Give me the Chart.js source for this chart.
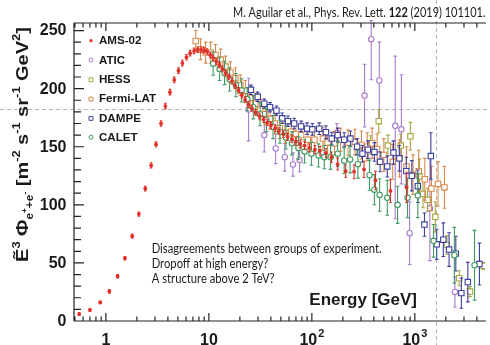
<!DOCTYPE html>
<html>
<head>
<meta charset="utf-8">
<title>All-electron flux</title>
<script src="https://cdn.jsdelivr.net/npm/chart.js@4.4.1/dist/chart.umd.min.js"></script>
<style>
  html, body { margin: 0; padding: 0; background: #fff; }
  canvas { display: block; }
</style>
</head>
<body>
<canvas id="flux" width="490" height="345"></canvas>
<script>
// E^3 x flux in m^-2 s^-1 sr^-1 GeV^2, energies in GeV
const amsEnergy = [0.55,0.70,0.88,1.08,1.30,1.53,1.80,2.09,2.41,2.75,3.07,3.43,3.78,4.19,4.61,5.07,5.53,6.06,6.57,7.18,7.8,8.4,9.0,9.6,10.3,11.0,11.8,12.6,13.5,14.5,15.6,16.8,18.0,19.4,20.9,22.5,24.2,26.2,28.5,31,34,37,40,44,48,53,58,64,70,77,85,95,107,120,137,155,178,213,257,321,415,580,830];
const amsFlux = [6,9.5,16,25.5,38.5,54,73,92,114,134,152,170,185,197,207.5,215.5,222,227,230.5,232.5,233.5,233.5,233,232,229,226.5,223.5,220.5,217,213.5,210,206.5,202.5,198.5,194.5,190.5,186.5,183,179.5,176.5,173.5,171,168.5,166,163.5,161,158.5,156.5,154.5,152.5,151,149,147.5,146.5,144.5,141,135,129,128.5,130.5,121,112,115];
const amsError = [1.2,1.2,1.2,1.5,1.5,1.5,1.8,1.8,2,2.2,2.2,2.4,2.4,2.4,2.4,2.4,2.4,2.4,2.4,2.4,2.4,2.4,2.4,2.4,2.4,2.4,2.4,2.4,2.4,2.4,2.4,2.4,2.4,2.4,2.4,2.4,2.4,2.5,2.5,2.5,2.6,2.6,2.7,2.8,2.9,3,3,3.1,3.2,3.3,3.4,3.5,3.6,3.8,4,4.5,5,5.5,6,7,8,10,13];

const aticEnergy = [24.3,34.5,44.5,54.6,65.5,76,175,325,377,452,645,740,890,1400,2450];
const aticFlux = [182,160,148.5,141,134.7,138.5,162,194,242.6,207,168,165,75.6,97,25];
const aticError = [27,14.5,13,12,10,10,8,27,[35,16],33,[80,60],47,27,45,13];

const hessEnergy = [370,446,548,730,905,1110,1200,1330,1580,2050,2700,3430,4640];
const hessFlux = [151.5,172,151,151,159,124.5,109.5,104.3,89.7,65.5,36.8,25.3,47.4];
const hessError = [8,10,9,10,12,15,12,10,13,8,6.5,4.3,3];

const fermiEnergy = [7.45,8.3,9.3,10.4,11.6,13,14.5,16.2,18.1,20.2,22.6,25.2,28.2,31.5,35.2,39.3,43.9,49,55,63,70,78.7,91.5,106,128,142,166,190,225,262,303,345,385,430,500,610,710,830,960,1090,1250,1450,1680,1940];
const fermiFlux = [241,234,231,231,229,225,219,214,209,203,198,192,187,182,178,174,170,166,162,163,161,160,156,156,157,153.5,153,156,153.5,154,151.5,150,153,148,143,137,140,133,126,129,122,114,118,115];
const fermiError = [9,9,9,9,9,9,9,9,9,9,9,9,9,9,9,9,9,9,9,9,10,10,10,10,10,10,10,10,11,11,12,12,13,13,14,15,16,17,17,18,18,19,19,18];

const dampeEnergy = [25.6,29.8,34.5,39.2,45.3,51.5,58.6,67.3,78.6,89.8,101,118,137,156,178,206,237,275,310,350,405,460,540,620,707,826,935,1070,1240,1430,1630,1890,2150,2500,2830,3270,4240];
const dampeFlux = [199,193,187,184,181,174.5,172,170,167.5,165.5,165,165.5,162.5,157,160,156,157,150,144,147.5,145.5,137,133,145,140,129,125,116,83,142,66,70,61.5,58,24,33.5,49];
const dampeError = [4,4,4,4,4,4.5,4.5,4.5,4.5,5,5,5,5.5,5.5,6,6,6.5,7,7,7.5,8,8.5,9,10,11,12,13,14,10,20,13,14.5,14.5,15,13,17,18];

const caletEnergy = [11,12.7,14.2,15.9,18.3,20.8,23.6,27,31.4,36.2,42,49,56,64,74,85,99,116,132,152,178,206,235,280,363,405,455,540,680,850,1070,1520,2420,3800];
const caletFlux = [221.5,217,213.5,208,203,198.5,191,184,178,173,167,163,158,153,149,146,144,142.5,141,141,144,138,139,135,125.5,113,108.5,106,100,106,108,69,56.6,48];
const caletError = [10,10,10,10,10,10,10,10,10,10,10,10,10,10,10,10,10,10,10,10.5,11,11,11.5,12,13,13,14,15,16,17,19,14,24,30];

// axis labels
const yTickValues = [0, 50, 100, 150, 200, 250];
const xTickValues = [1, 10, 100, 1000];
const xTickLabels = [['1', ''], ['10', ''], ['10', '2'], ['10', '3']];

// dashed guide lines
const guideFlux = 182.8;
const guideEnergy = 1600;

const noteLines = [
  'Disagreements between groups of experiment.',
  'Dropoff at high energy?',
  'A structure above 2 TeV?'
];
const citation = ['M. Aguilar et al., Phys. Rev. Lett. ', '122', ' (2019) 101101.'];

const BOLD = '"Liberation Sans", Arial, sans-serif';
const NOTE = 'Lato, "Open Sans", sans-serif';

function series(label, energy, flux, errors, style) {
  return Object.assign({
    label: label,
    data: energy.map((e, i) => ({ x: e, y: flux[i] })),
    errors: errors,
    showLine: false,
    pointBackgroundColor: '#fff',
    pointBorderColor: style.color,
    borderColor: style.color,
    pointBorderWidth: 1.1,
    capHalf: 1.8
  }, style);
}

const datasets = [
  series('AMS-02', amsEnergy, amsFlux, amsError,
    { color: '#e0302a', pointStyle: 'circle', pointRadius: 1.9, pointBackgroundColor: '#e0302a', pointBorderWidth: 0, capHalf: 1.3, order: 1, legendRadius: 1.6 }),
  series('ATIC', aticEnergy, aticFlux, aticError,
    { color: '#a97ccb', pointStyle: 'circle', pointRadius: 2.7, order: 6, legendRadius: 2 }),
  series('HESS', hessEnergy, hessFlux, hessError,
    { color: '#a9a644', pointStyle: 'rect', pointRadius: 3.8, order: 5, legendRadius: 2.9 }),
  series('Fermi-LAT', fermiEnergy, fermiFlux, fermiError,
    { color: '#d8894c', pointStyle: 'rect', pointRadius: 3.8, order: 4, legendRadius: 2.9 }),
  series('DAMPE', dampeEnergy, dampeFlux, dampeError,
    { color: '#3d3f9c', pointStyle: 'rect', pointRadius: 3.8, order: 3, legendRadius: 2.9 }),
  series('CALET', caletEnergy, caletFlux, caletError,
    { color: '#3f9b5f', pointStyle: 'circle', pointRadius: 2.7, order: 2, legendRadius: 2 })
];

// vertical error bars with small caps, drawn just under each dataset's markers
const errorBars = {
  id: 'errorBars',
  beforeDatasetDraw(chart, args) {
    const ds = chart.data.datasets[args.index];
    if (!ds.errors) return;
    const { ctx, chartArea: a } = chart;
    const y = chart.scales.y;
    ctx.save();
    ctx.beginPath();
    ctx.rect(a.left, a.top - 3, a.right - a.left, a.bottom - a.top + 3);
    ctx.clip();
    ctx.strokeStyle = ds.color;
    ctx.lineWidth = 1.1;
    args.meta.data.forEach((pt, i) => {
      const e = ds.errors[i];
      const lo = Array.isArray(e) ? e[0] : e;
      const hi = Array.isArray(e) ? e[1] : e;
      const v = ds.data[i].y;
      const top = y.getPixelForValue(v + hi);
      const bot = y.getPixelForValue(v - lo);
      const c = ds.capHalf;
      ctx.beginPath();
      ctx.moveTo(pt.x, top); ctx.lineTo(pt.x, bot);
      ctx.moveTo(pt.x - c, top); ctx.lineTo(pt.x + c, top);
      ctx.moveTo(pt.x - c, bot); ctx.lineTo(pt.x + c, bot);
      ctx.stroke();
    });
    ctx.restore();
  }
};

// dashed guides run across the whole canvas, behind the data
const guides = {
  id: 'guides',
  beforeDatasetsDraw(chart) {
    const { ctx, width, height } = chart;
    const gy = Math.round(chart.scales.y.getPixelForValue(guideFlux)) + 0.5;
    const gx = Math.round(chart.scales.x.getPixelForValue(guideEnergy)) + 0.5;
    ctx.save();
    ctx.strokeStyle = '#b5b5b5';
    ctx.lineWidth = 1;
    ctx.setLineDash([4, 3]);
    ctx.beginPath();
    ctx.moveTo(0, gy); ctx.lineTo(width, gy);
    ctx.moveTo(gx, 0); ctx.lineTo(gx, height);
    ctx.stroke();
    ctx.restore();
  }
};

// rich text run of {t, size, dy} pieces, stretched along the baseline to `span` px
function drawRun(ctx, parts, span) {
  const gapW = 4.5;
  let total = 0;
  parts.forEach(p => {
    if (p.gap) { total += gapW; return; }
    ctx.font = 'bold ' + p.size + 'px ' + BOLD;
    p.w = ctx.measureText(p.t).width;
    total += p.w;
  });
  ctx.scale(span / total, 1);
  let x = -total / 2;
  parts.forEach(p => {
    if (p.gap) { x += gapW; return; }
    ctx.font = 'bold ' + p.size + 'px ' + BOLD;
    ctx.fillText(p.t, x, p.dy || 0);
    x += p.w;
  });
}

function fitText(ctx, pieces, x, y, targetW, baseSize) {
  let total = 0;
  pieces.forEach(p => {
    ctx.font = (p.bold ? 'bold ' : '') + baseSize + 'px ' + NOTE;
    p.w = ctx.measureText(p.t).width;
    total += p.w;
  });
  const sx = targetW / total;
  ctx.save();
  ctx.translate(x, y);
  ctx.scale(sx, 1);
  let cx = 0;
  pieces.forEach(p => {
    ctx.font = (p.bold ? 'bold ' : '') + baseSize + 'px ' + NOTE;
    ctx.fillText(p.t, cx, 0);
    cx += p.w;
  });
  ctx.restore();
}

const frame = {
  id: 'frame',
  afterDatasetsDraw(chart) {
    const { ctx, chartArea: a } = chart;
    const xs = chart.scales.x, ys = chart.scales.y;
    ctx.save();
    ctx.strokeStyle = '#222';
    ctx.lineWidth = 1.2;
    ctx.beginPath();
    ctx.moveTo(a.left, a.top); ctx.lineTo(a.right + 1, a.top);
    ctx.moveTo(a.left, a.top); ctx.lineTo(a.left, a.bottom);
    ctx.moveTo(a.left, a.bottom); ctx.lineTo(a.right + 1, a.bottom);
    // log ticks on bottom (pointing up) and top (pointing down)
    for (let d = -1; d <= 3; d++) {
      for (let m = 1; m <= 9; m++) {
        const v = m * Math.pow(10, d);
        if (v <= xs.min || v > xs.max) continue;
        const px = xs.getPixelForValue(v);
        const len = m === 1 ? 8 : 4.5;
        ctx.moveTo(px, a.bottom); ctx.lineTo(px, a.bottom - len);
        ctx.moveTo(px, a.top); ctx.lineTo(px, a.top + len);
      }
    }
    // linear ticks on the left axis
    for (let v = 0; v <= 250; v += 10) {
      const py = ys.getPixelForValue(v);
      const len = v % 50 === 0 ? 10 : 7;
      ctx.moveTo(a.left, py); ctx.lineTo(a.left + len, py);
    }
    ctx.stroke();

    ctx.fillStyle = '#1a1a1a';
    ctx.font = 'bold 16px ' + BOLD;
    ctx.textAlign = 'right';
    ctx.textBaseline = 'middle';
    yTickValues.forEach(v => ctx.fillText(String(v), 66.5, ys.getPixelForValue(v) + 0.5));

    ctx.textBaseline = 'alphabetic';
    ctx.textAlign = 'left';
    xTickValues.forEach((v, i) => {
      const [base, exp] = xTickLabels[i];
      ctx.font = 'bold 16px ' + BOLD;
      const bw = ctx.measureText(base).width;
      ctx.font = 'bold 11px ' + BOLD;
      const ew = exp ? ctx.measureText(exp).width + 1 : 0;
      const x0 = xs.getPixelForValue(v) - (bw + ew) / 2;
      ctx.font = 'bold 16px ' + BOLD;
      ctx.fillText(base, x0, 344.5);
      if (exp) {
        ctx.font = 'bold 11px ' + BOLD;
        ctx.fillText(exp, x0 + bw + 1, 337);
      }
    });

    // x title sits inside the plot, lower right
    ctx.font = 'bold 17px ' + BOLD;
    ctx.textAlign = 'right';
    ctx.fillText('Energy [GeV]', 417, 305);

    // rotated y title
    ctx.save();
    ctx.translate(28, 144.5);
    ctx.rotate(-Math.PI / 2);
    ctx.textAlign = 'left';
    drawRun(ctx, [
      { t: 'Ẽ', size: 17 }, { t: '3', size: 11, dy: -8 }, { gap: 1 },
      { t: 'Φ', size: 17 }, { t: 'e', size: 10, dy: 5 }, { t: '+', size: 7, dy: -1 },
      { t: '+', size: 10, dy: 5 }, { t: 'e', size: 10, dy: 5 }, { t: '-', size: 8, dy: -1 }, { gap: 1 },
      { t: '[m', size: 17 }, { t: '-2', size: 11, dy: -8 }, { gap: 1 },
      { t: 's', size: 17 }, { t: '-1', size: 11, dy: -8 }, { gap: 1 },
      { t: 'sr', size: 17 }, { t: '-1', size: 11, dy: -8 }, { gap: 1 },
      { t: 'GeV', size: 17 }, { t: '2', size: 11, dy: -8 }, { t: ']', size: 17 }
    ], 235);
    ctx.restore();

    // legend in the upper-left corner of the plot
    chart.data.datasets.forEach((ds, i) => {
      const ly = 40.7 + 19.3 * i;
      ctx.beginPath();
      if (ds.pointStyle === 'rect') {
        const s = ds.legendRadius;
        ctx.rect(91 - s / 2 - 0.5, ly - s / 2, s + 1, s + 1);
      } else {
        ctx.arc(91, ly, ds.legendRadius, 0, Math.PI * 2);
      }
      ctx.fillStyle = ds.pointBackgroundColor;
      ctx.fill();
      if (ds.pointBorderWidth > 0) {
        ctx.strokeStyle = ds.color;
        ctx.lineWidth = 1;
        ctx.stroke();
      }
      ctx.fillStyle = '#1a1a1a';
      ctx.font = 'bold 11.6px ' + BOLD;
      ctx.textAlign = 'left';
      ctx.textBaseline = 'middle';
      ctx.fillText(ds.label, 99, ly + 0.5);
    });

    // citation and remarks
    ctx.textBaseline = 'alphabetic';
    ctx.fillStyle = '#1a1a1a';
    fitText(ctx, [{ t: citation[0] }, { t: citation[1], bold: true }, { t: citation[2] }], 233, 17, 252.5, 12.5);
    const noteY = [253, 267.5, 282.5];
    ctx.font = '12.5px ' + NOTE;
    const sx = 230 / ctx.measureText(noteLines[0]).width;
    noteLines.forEach((line, i) => {
      ctx.save();
      ctx.translate(151.7, noteY[i]);
      ctx.scale(sx, 1);
      ctx.font = '12.5px ' + NOTE;
      ctx.fillText(line, 0, 0);
      ctx.restore();
    });
    ctx.restore();
  }
};

const ctx = document.getElementById('flux').getContext('2d');
const fluxChart = new Chart(ctx, {
  type: 'scatter',
  data: { datasets: datasets },
  options: {
    responsive: false,
    animation: false,
    events: [],
    layout: { padding: { left: 74, right: 1, top: 23, bottom: 24 } },
    plugins: { legend: { display: false }, tooltip: { enabled: false } },
    scales: {
      x: { type: 'logarithmic', min: 0.49, max: 4790, display: false },
      y: { type: 'linear', min: 0, max: 256.5, display: false }
    }
  },
  plugins: [guides, errorBars, frame]
});
</script>
</body>
</html>
